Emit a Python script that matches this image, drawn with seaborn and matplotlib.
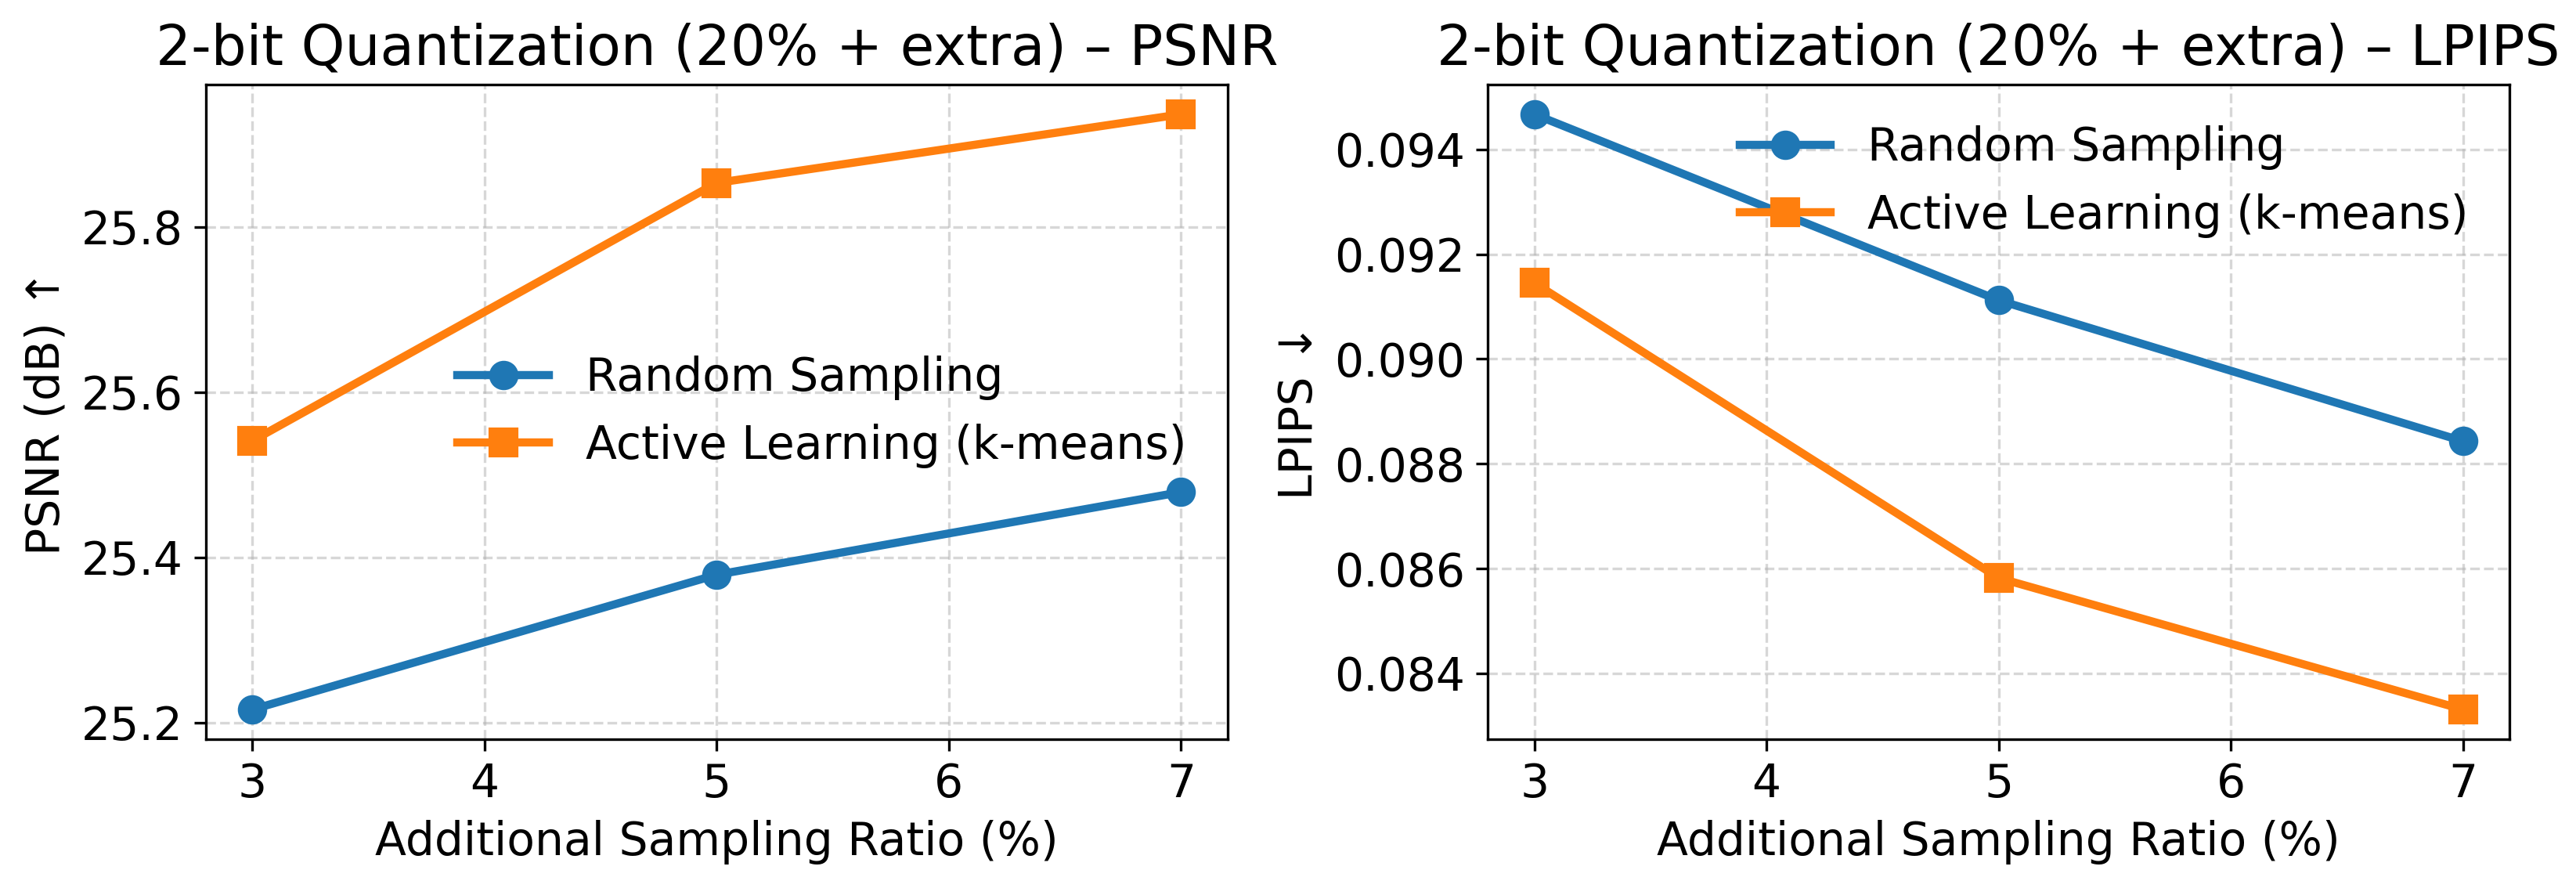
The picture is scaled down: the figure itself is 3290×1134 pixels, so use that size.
import matplotlib
matplotlib.use('Agg')
import matplotlib.pyplot as plt
from matplotlib.ticker import MultipleLocator, FormatStrFormatter
import seaborn as sns
import pandas as pd

plt.rcParams.update({'font.size': 14})

ratios = [3, 5, 7]
psnr_random = [25.216, 25.379, 25.479]
psnr_active = [25.541, 25.853, 25.936]
lpips_random = [0.09467, 0.09112, 0.08843]
lpips_active = [0.09145, 0.08582, 0.08331]

label_random = 'Random Sampling'
label_active = 'Active Learning (k-means)'

df_psnr = pd.DataFrame({'ratio': ratios, 'random': psnr_random, 'active': psnr_active})
df_lpips = pd.DataFrame({'ratio': ratios, 'random': lpips_random, 'active': lpips_active})


def draw_panel(ax, df, title, ylabel, loc):
    sns.lineplot(x='ratio', y='random', data=df, ax=ax, color='#1f77b4', marker='o',
                 markersize=8, linewidth=2.5, markeredgecolor='#1f77b4',
                 markeredgewidth=1, label=label_random)
    sns.lineplot(x='ratio', y='active', data=df, ax=ax, color='#ff7f0e', marker='s',
                 markersize=8, linewidth=2.5, markeredgecolor='#ff7f0e',
                 markeredgewidth=1, label=label_active)
    ax.set_title(title, fontsize=17)
    ax.set_xlabel('Additional Sampling Ratio (%)')
    ax.set_ylabel(ylabel)
    ax.grid(True, ls='--', alpha=0.5)
    ax.legend(loc=loc, frameon=False, fontsize=14)


fig, (ax1, ax2) = plt.subplots(1, 2, figsize=(3290 / 300, 1134 / 300))
fig.subplots_adjust(left=0.0799, right=0.9742, top=0.9048, bottom=0.1675, wspace=0.255)

draw_panel(ax1, df_psnr, '2-bit Quantization (20% + extra) – PSNR', 'PSNR (dB) ↑', 'center right')
draw_panel(ax2, df_lpips, '2-bit Quantization (20% + extra) – LPIPS', 'LPIPS ↓', 'upper right')
ax2.yaxis.set_major_locator(MultipleLocator(0.002))
ax2.yaxis.set_major_formatter(FormatStrFormatter('%.3f'))

fig.savefig('out.png', dpi=300)
